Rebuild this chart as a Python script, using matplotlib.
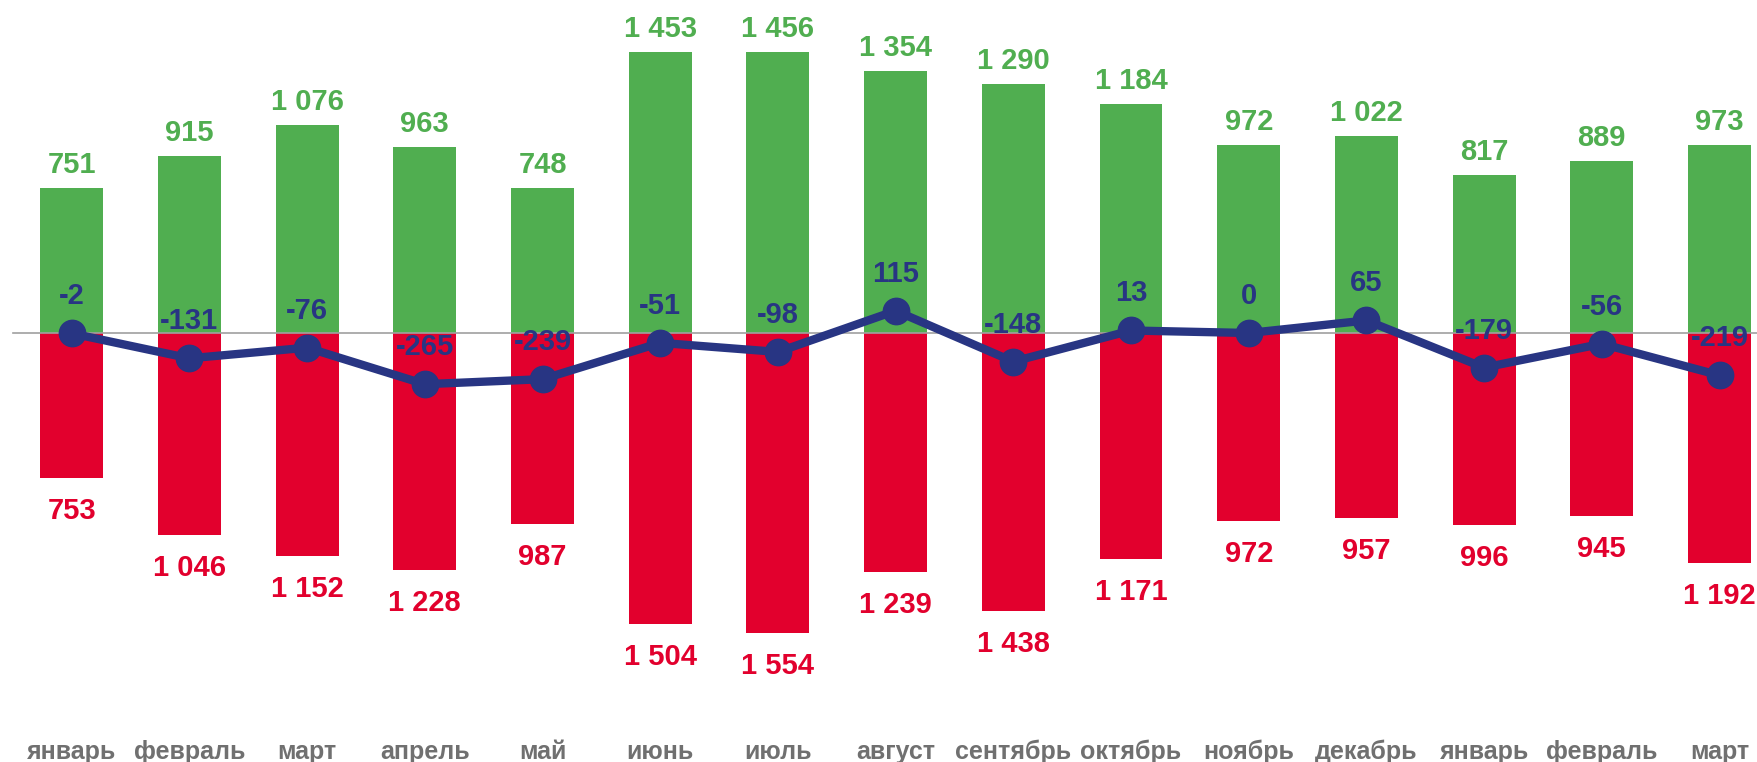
import matplotlib
matplotlib.use("Agg")
import matplotlib.pyplot as plt
import numpy as np

months = ["январь", "февраль", "март", "апрель", "май", "июнь", "июль", "август",
          "сентябрь", "октябрь", "ноябрь", "декабрь", "январь", "февраль", "март"]
inflow = [751, 915, 1076, 963, 748, 1453, 1456, 1354, 1290, 1184, 972, 1022, 817, 889, 973]
outflow = [753, 1046, 1152, 1228, 987, 1504, 1554, 1239, 1438, 1171, 972, 957, 996, 945, 1192]
net = [-2, -131, -76, -265, -239, -51, -98, 115, -148, 13, 0, 65, -179, -56, -219]

GREEN = "#50AE50"
RED = "#E2002D"
BLUE = "#283583"
GREY = "#707070"

def fmt(v):
    return f"{v:,}".replace(",", " ")

plt.rcParams['font.family'] = ['Liberation Sans', 'DejaVu Sans']

W, H = 1757, 762
fig = plt.figure(figsize=(W / 100, H / 100), dpi=100)
ax = fig.add_axes([0, 0, 1, 1])
ax.set_axis_off()

x = np.arange(len(months))
px_per_unit_x = 117.7
x0 = 71.7
ax.set_xlim(-x0 / px_per_unit_x, (W - x0) / px_per_unit_x)
zero_px = 333.0
sy = 0.1932
ax.set_ylim(-(H - zero_px) / sy, zero_px / sy)

bw = 0.535
ax.bar(x, inflow, width=bw, color=GREEN, zorder=2)
ax.bar(x, [-v for v in outflow], width=bw, color=RED, zorder=2)
ax.axhline(0, xmin=13 / W, xmax=1, color="#A0A0A0", lw=1.2, zorder=3)
ax.plot(x, net, color=BLUE, lw=6, marker="o", markersize=19, zorder=4,
        solid_capstyle="round")

fs = 21
off_g = 23 / sy
off_r = 33 / sy
off_n = 37 / sy
for i in range(len(months)):
    ax.text(x[i], inflow[i] + off_g, fmt(inflow[i]), ha="center", va="center",
            color=GREEN, fontsize=fs, fontweight="bold", zorder=5)
    ax.text(x[i], -outflow[i] - off_r, fmt(outflow[i]), ha="center", va="center",
            color=RED, fontsize=fs, fontweight="bold", zorder=5)
    ax.text(x[i], net[i] + off_n, fmt(net[i]), ha="center", va="center",
            color=BLUE, fontsize=fs, fontweight="bold", zorder=6)
    ax.text(x[i], -(759 - zero_px) / sy, months[i], ha="center", va="baseline",
            color=GREY, fontsize=18, fontweight="bold", zorder=5)

fig.savefig("out.png", dpi=100)
